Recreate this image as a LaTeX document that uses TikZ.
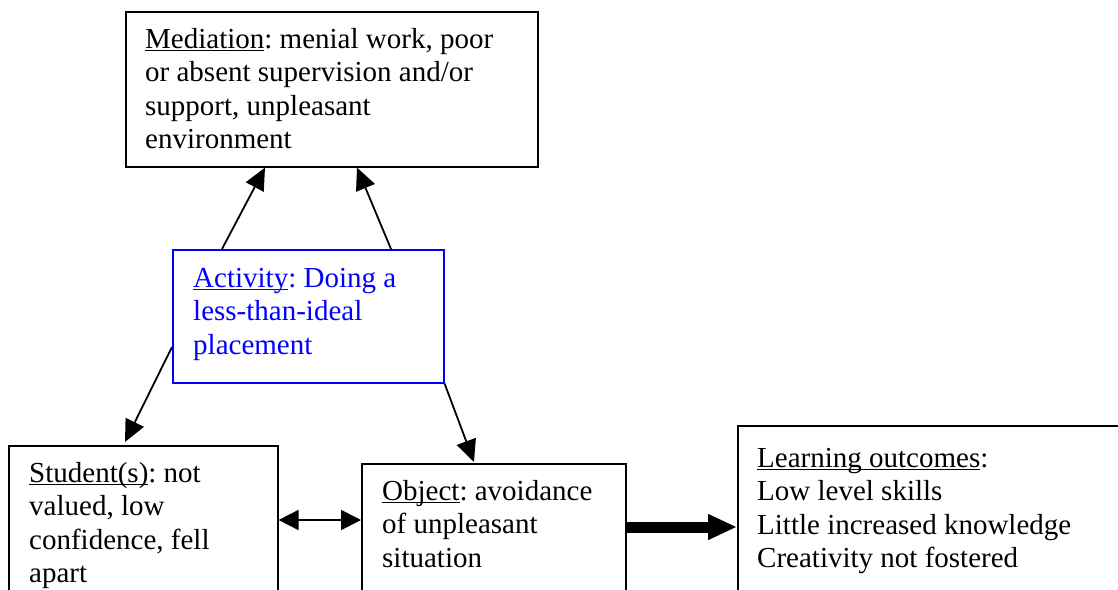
\documentclass[tikz,border=0pt]{standalone}
\usepackage{fontspec}
\setmainfont{Liberation Serif}
\usetikzlibrary{arrows.meta,calc}
\newcommand\myul[1]{\setbox0\hbox{#1}\rlap{\rule[-3.2pt]{\wd0}{1.3pt}}\box0}
\frenchspacing
\begin{document}
\begin{tikzpicture}[x=1pt,y=-1pt,
  boxshape/.style={draw,line width=1.6pt,rectangle,inner sep=0pt,anchor=north west},
  boxtext/.style={anchor=north west,inner sep=0pt,align=left,font=\fontsize{29}{33.5}\selectfont\frenchspacing},
  conn/.style={line width=1.8pt,-{Triangle[length=22pt,width=20pt]}},
  dconn/.style={line width=1.8pt,{Triangle[length=20pt,width=20pt]}-{Triangle[length=20pt,width=20pt]}},
  thick conn/.style={line width=11pt,-{Triangle[length=29pt,width=24pt]}}]
\useasboundingbox (0,0) rectangle (1118,589);
\clip (0,0) rectangle (1118,589);
\fill[white] (0,0) rectangle (1118,589);
% boxes
\node[boxshape,minimum width=412pt,minimum height=155pt] (med) at (125,11) {};
\node[boxshape,draw=blue,minimum width=271pt,minimum height=133pt] (act) at (172,249) {};
\node[boxshape,minimum width=269pt,minimum height=180pt] (stu) at (8,445) {};
\node[boxshape,minimum width=264pt,minimum height=160pt] (obj) at (361,463) {};
\node[boxshape,minimum width=400pt,minimum height=200pt] (lrn) at (737,425) {};
% texts
\node[boxtext] (medt) at (145,24.5) {\strut\myul{Mediation}: menial work, poor\\or absent supervision and/or\\support, unpleasant\\environment};
\node[boxtext,text=blue] (actt) at (193,263.5) {\strut\myul{Activity}: Doing a\\less-than-ideal\\placement};
\node[boxtext] (stut) at (29,458.5) {\strut\myul{Student(s)}: not\\valued, low\\confidence, fell\\apart};
\node[boxtext] (objt) at (382,476.5) {\strut\myul{Object}: avoidance\\of unpleasant\\situation};
\node[boxtext] (lrnt) at (757,443.5) {\strut\myul{Learning outcomes}:\\Low level skills\\Little increased knowledge\\Creativity not fostered};
% connectors
\draw[conn] ($(act.north west)+(50,0)$) -- ($(med.south west)+(140,0)$);
\draw[conn] ($(act.north west)+(219,0)$) -- ($(med.south west)+(232,0)$);
\draw[conn] ($(act.north west)+(0,98)$) -- ($(stu.north west)+(117,-3)$);
\draw[conn] (act.south east) -- ($(obj.north west)+(113,-1)$);
\draw[dconn] ($(stu.north east)+(0,75)$) -- ($(obj.north west)+(0,57)$);
\draw[thick conn] ($(obj.north east)+(0,64)$) -- ($(lrn.north west)+(0,102)$);
\end{tikzpicture}
\end{document}
